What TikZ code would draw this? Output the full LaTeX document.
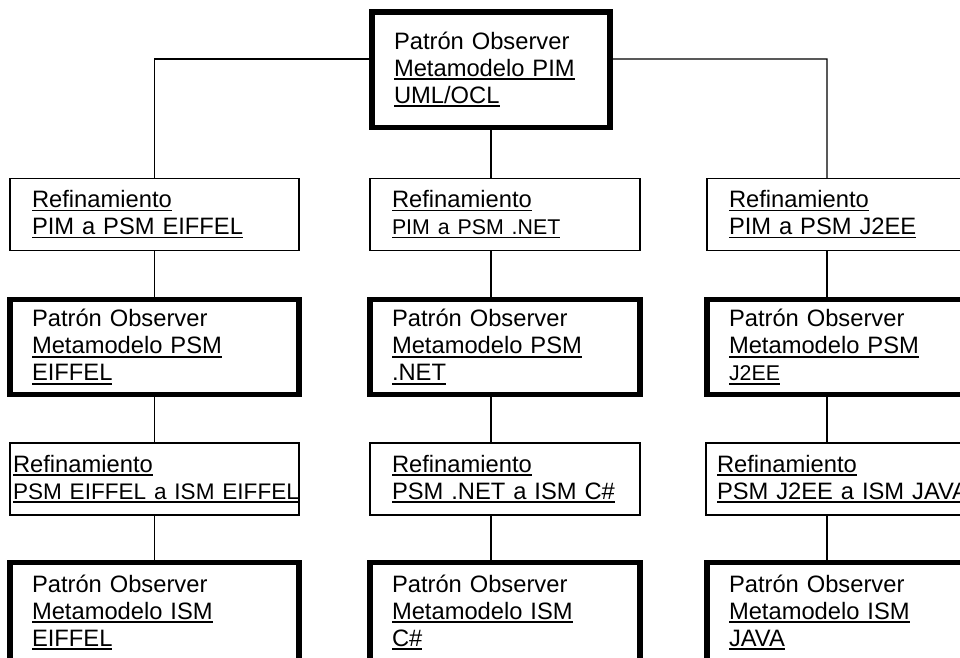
\documentclass[tikz,border=0pt]{standalone}
\usepackage{fontspec}
\setmainfont{Liberation Sans}
\newcommand{\mainfs}{\fontsize{17.8pt}{20.25pt}\selectfont}
\newcommand{\smallfs}{\fontsize{16pt}{20.25pt}\selectfont}
\newcommand{\undl}[1]{\setbox0=\hbox{#1}\leavevmode\rlap{\rule[-0.15em]{\wd0}{0.075em}}\box0}

\begin{document}
\begin{tikzpicture}[x=0.75pt,y=-0.75pt,line width=1pt,font=\mainfs,thin box/.style={draw,rectangle,line width=1.1pt,inner sep=0pt,align=left},thick box/.style={thin box,line width=4.1pt}]
\tikzstyle{link} = [draw,line width=1pt,-]

\useasboundingbox (0,0) rectangle (960,657);
\clip (0,0) rectangle (960,657);

% PIM
\node[thick box,minimum width=178.5pt,minimum height=86.6pt,text width=145.5pt] (pim) at (491,69.5) {\mbox{Patrón Observer}\\\undl{Metamodelo PIM}\\\undl{UML/OCL}};
\coordinate (rcol) at (827,59);

% PIM -> PSM
\node[thin box,minimum width=216.75pt,minimum height=54pt,text width=183.75pt] (refeif) at (154.5,214.5) {\undl{Refinamiento}\\\undl{PIM a PSM EIFFEL}};
\node[thin box,minimum width=202.5pt,minimum height=54pt,text width=169.5pt] (refnet) at (505,214.5) {\undl{Refinamiento}\\\undl{\smallfs PIM a PSM .NET}};
\node[thin box,minimum width=202.5pt,minimum height=54pt,text width=169.5pt] (refjee) at (842,214.5) {\undl{Refinamiento}\\\undl{PIM a PSM J2EE}};

% PSM
\node[thick box,minimum width=216.75pt,minimum height=70.9pt,text width=183.75pt] (psmeif) at (154.5,347) {\mbox{Patrón Observer}\\\undl{Metamodelo PSM}\\\undl{EIFFEL}};
\node[thick box,minimum width=202.5pt,minimum height=70.9pt,text width=169.5pt] (psmnet) at (505,347) {\mbox{Patrón Observer}\\\undl{Metamodelo PSM}\\\undl{.NET}};
\node[thick box,minimum width=202.5pt,minimum height=70.9pt,text width=169.5pt] (psmjee) at (842,347) {\mbox{Patrón Observer}\\\undl{Metamodelo PSM}\\\undl{\smallfs J2EE}};

% PSM -> ISM
\node[thin box,minimum width=216.75pt,minimum height=54pt,text width=212.25pt] (refeif2) at (154.5,479) {\undl{Refinamiento}\\\undl{\fontsize{16.9pt}{20.25pt}\selectfont PSM EIFFEL a ISM EIFFEL}};
\node[thin box,minimum width=202.5pt,minimum height=54pt,text width=169.5pt] (refnet2) at (505,479) {\undl{Refinamiento}\\\undl{PSM .NET a ISM C\#}};
\node[thin box,minimum width=203.25pt,minimum height=54pt,text width=186.75pt] (refjee2) at (841.5,479) {\undl{Refinamiento}\\\undl{PSM J2EE a ISM JAVA}};

% ISM
\node[thick box,minimum width=216.75pt,minimum height=74.6pt,text width=183.75pt] (ismeif) at (154.5,612.25) {\mbox{Patrón Observer}\\\undl{Metamodelo ISM}\\\undl{EIFFEL}};
\node[thick box,minimum width=202.5pt,minimum height=74.6pt,text width=169.5pt] (ismnet) at (505,612.25) {\mbox{Patrón Observer}\\\undl{Metamodelo ISM}\\\undl{C\#}};
\node[thick box,minimum width=202.5pt,minimum height=74.6pt,text width=169.5pt] (ismjee) at (842,612.25) {\mbox{Patrón Observer}\\\undl{Metamodelo ISM}\\\undl{JAVA}};

% connectors
\draw[link] ([yshift=7.9pt]pim.west) -| (refeif.north);
\draw[link] ([yshift=7.9pt]pim.east) -- (rcol) -- (rcol |- refjee.north);
\draw[link] (pim.south) -- (pim.south |- refnet.north);

\draw[link] (refeif) -- (psmeif);
\draw[link] (pim.south |- refnet.south) -- (pim.south |- psmnet.north);
\draw[link] (rcol |- refjee.south) -- (rcol |- psmjee.north);

\draw[link] (psmeif) -- (refeif2);
\draw[link] (pim.south |- psmnet.south) -- (pim.south |- refnet2.north);
\draw[link] (rcol |- psmjee.south) -- (rcol |- refjee2.north);

\draw[link] (refeif2) -- (ismeif);
\draw[link] (pim.south |- refnet2.south) -- (pim.south |- ismnet.north);
\draw[link] (rcol |- refjee2.south) -- (rcol |- ismjee.north);

\end{tikzpicture}
\end{document}
